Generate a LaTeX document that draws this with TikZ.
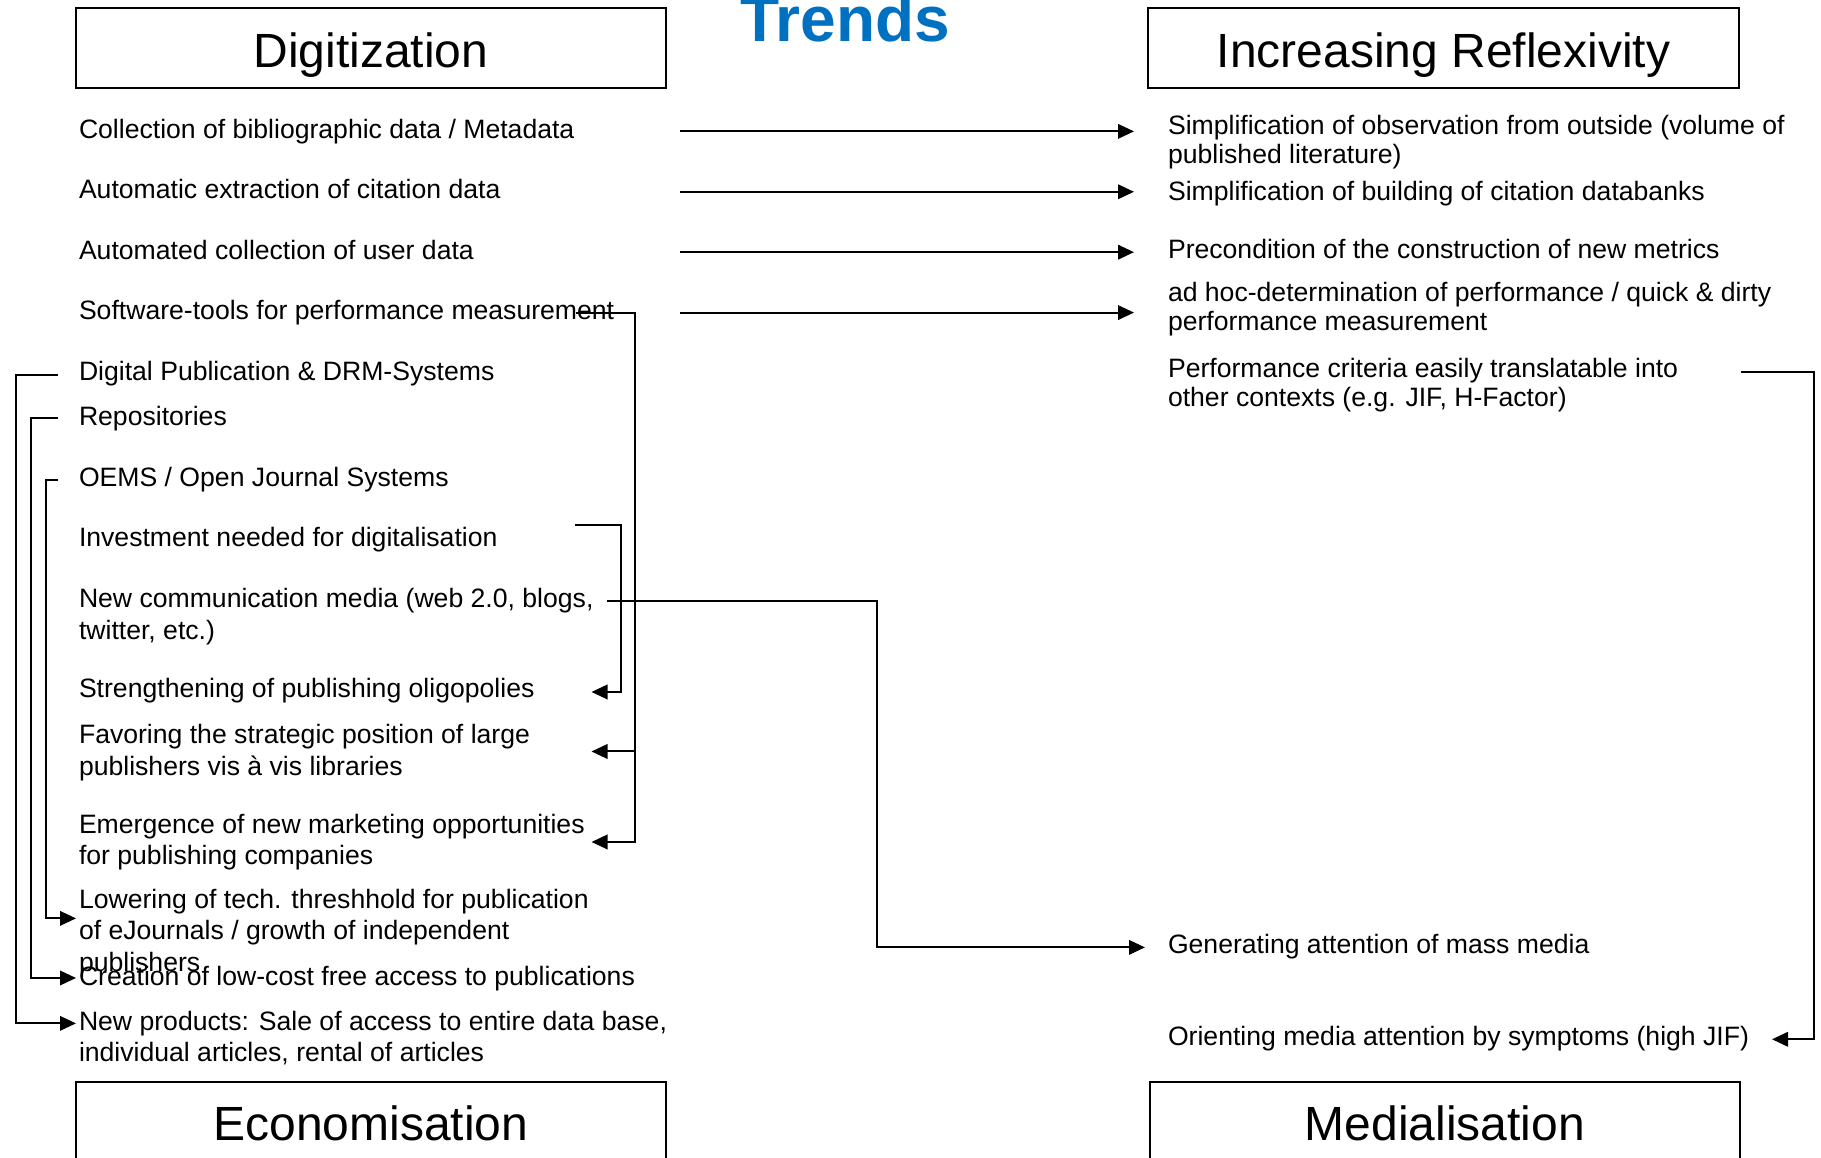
\documentclass[tikz,border=0pt]{standalone}
\usepackage{fontspec}
\setmainfont{Liberation Sans}
\usetikzlibrary{arrows.meta,calc}
\definecolor{trendblue}{HTML}{0070C0}
% multi-line text whose baseline is that of its first line
\newcommand\itemrows[1]{\begin{tabular}[t]{@{}l@{}}#1\end{tabular}}

\begin{document}
% the body size also fixes the height of the mid anchors
\fontsize{26.6}{31.5}\selectfont
\begin{tikzpicture}[x=1pt,y=-1pt,
  every node/.style={inner sep=0pt,outer sep=0pt},
  lefttext/.style={anchor=base west,font=\fontsize{26.6}{31.5}\selectfont},
  righttext/.style={anchor=base west,font=\fontsize{26.6}{29.5}\selectfont},
  headbox/.style={draw,line width=2pt,minimum width=590.5pt,minimum height=79.4pt,
    text height=38pt,text depth=0pt,font=\fontsize{48}{56}\selectfont},
  link/.style={line width=2pt},
  arr/.style={link,-{Triangle[length=16pt,width=14.5pt]}},
]
\useasboundingbox (0,0) rectangle (1821,1157);

% column and lane positions for the connectors
\coordinate (colA)  at (680,0);
\coordinate (colB)  at (1134,0);
\coordinate (stubL) at (58,0);
\coordinate (laneD) at (15.5,0);
\coordinate (laneR) at (30.5,0);
\coordinate (laneO) at (46,0);
\coordinate (stubS) at (576,0);
\coordinate (laneS) at (635,0);
\coordinate (stubI) at (575,0);
\coordinate (laneI) at (620.5,0);
\coordinate (tipL)  at (591.5,0);
\coordinate (stubN) at (607,0);
\coordinate (laneN) at (877,0);
\coordinate (tipG)  at (1145,0);
\coordinate (stubP) at (1741,0);
\coordinate (laneP) at (1813.5,0);
\coordinate (tipO)  at (1772,0);

% heading boxes
\node[headbox] (digit) at (370.75,48) {Digitization};
\node[headbox] (reflex) at (1443.6,48) {Increasing Reflexivity};
\node[headbox] (econ) at (370.75,1121.4) {Economisation};
\node[headbox] (media) at (1445,1121.4) {Medialisation};
\node[anchor=base west,font=\fontsize{64}{74}\selectfont\bfseries,text=trendblue]
  (trends) at (740,41) {Trends};

% left column
\node[lefttext] (coll)     at (79,138.4)  {Collection of bibliographic data / Metadata};
\node[lefttext] (autoex)   at (79,198.8)  {Automatic extraction of citation data};
\node[lefttext] (autouser) at (79,259.2)  {Automated collection of user data};
\node[lefttext] (soft)     at (79,319.6)  {Software-tools for performance measurement};
\node[lefttext] (digpub)   at (79,380)    {Digital Publication \& DRM-Systems};
\node[lefttext] (repos)    at (79,425.3)  {Repositories};
\node[lefttext] (oems)     at (79,486.8)  {OEMS / Open Journal Systems};
\node[lefttext] (invest)   at (79,546.1)  {Investment needed for digitalisation};
\node[lefttext] (newcomm)  at (79,607.6)  {\itemrows{New communication media (web 2.0, blogs,\\twitter, etc.)}};
\node[lefttext] (streng)   at (79,697)    {Strengthening of publishing oligopolies};
\node[lefttext] (favor)    at (79,743.5)  {\itemrows{Favoring the strategic position of large\\publishers vis à vis libraries}};
\node[lefttext] (emerg)    at (79,833)    {\itemrows{Emergence of new marketing opportunities\\for publishing companies}};
\node[lefttext] (lower)    at (79,908.4)  {\itemrows{Lowering of tech. threshhold for publication\\of eJournals / growth of independent\\publishers}};
\node[lefttext] (creation) at (79,985)    {Creation of low-cost free access to publications};
\node[lefttext] (newprod)  at (79,1030.4) {\itemrows{New products: Sale of access to entire data base,\\individual articles, rental of articles}};

% right column
\node[righttext] (simpobs)   at (1168,134.2)  {\itemrows{Simplification of observation from outside (volume of\\published literature)}};
\node[righttext] (simpbuild) at (1168,200.6)  {Simplification of building of citation databanks};
\node[righttext] (precond)   at (1168,258.8)  {Precondition of the construction of new metrics};
\node[righttext] (adhoc)     at (1168,301.2)  {\itemrows{ad hoc-determination of performance / quick \& dirty\\performance measurement}};
\node[righttext] (perf)      at (1168,377.2)  {\itemrows{Performance criteria easily translatable into\\other contexts (e.g. JIF, H-Factor)}};
\node[righttext] (gen)       at (1168,953.4)  {Generating attention of mass media};
\node[righttext] (orient)    at (1168,1045.3) {Orienting media attention by symptoms (high JIF)};

% digitization feeds reflexivity
\foreach \n in {coll,autoex,autouser,soft}
  \draw[arr] (\n.mid -| colA) -- (\n.mid -| colB);

% software tools feed the publishers' position
\draw[arr] (soft.mid -| stubS) -| ($(emerg.mid -| laneS)+(0,16)$) -- ($(emerg.mid -| tipL)+(0,16)$);
\draw[arr] ($(favor.mid -| laneS)+(0,15)$) -- ($(favor.mid -| tipL)+(0,15)$);

% investment strengthens oligopolies
\draw[arr] ($(invest.mid -| stubI)+(0,-14)$) -| ($(streng.mid -| laneI)+(0,2)$) -- ($(streng.mid -| tipL)+(0,2)$);

% new media generate attention
\draw[arr] (newcomm.mid -| stubN) -| ($(gen.mid -| laneN)+(0,1)$) -- ($(gen.mid -| tipG)+(0,1)$);

% criteria orient media attention
\draw[arr] ($(perf.mid -| stubP)+(0,2)$) -| ($(orient.mid -| laneP)+(0,1)$) -- ($(orient.mid -| tipO)+(0,1)$);

% publication systems open new markets
\draw[arr] ($(digpub.mid -| stubL)+(0,2)$) -| (newprod.mid -| laneD) -- ($(newprod.mid west)+(-3,0)$);
\draw[arr] (repos.mid -| stubL) -| (creation.mid -| laneR) -- ($(creation.mid west)+(-3,0)$);
\draw[arr] (oems.mid -| stubL) -| ($(lower.mid -| laneO)+(0,17)$) -- ($(lower.mid west)+(-3,17)$);
\end{tikzpicture}
\end{document}
